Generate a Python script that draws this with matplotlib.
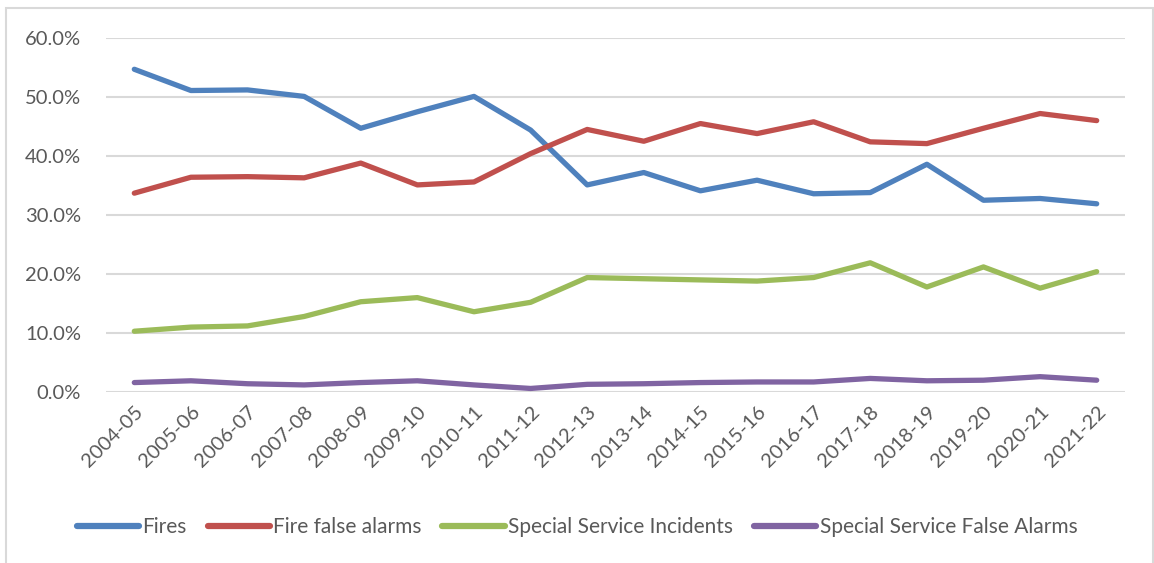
import matplotlib
matplotlib.use("Agg")
import matplotlib.pyplot as plt
from matplotlib.patches import Rectangle
from matplotlib.ticker import FuncFormatter

plt.rcParams['font.family'] = ['Lato', 'DejaVu Sans']

# Data (percent)
years = ['2004-05', '2005-06', '2006-07', '2007-08', '2008-09', '2009-10',
         '2010-11', '2011-12', '2012-13', '2013-14', '2014-15', '2015-16',
         '2016-17', '2017-18', '2018-19', '2019-20', '2020-21', '2021-22']
fires = [54.7, 51.1, 51.2, 50.1, 44.7, 47.5, 50.1, 44.4, 35.1, 37.2, 34.1, 35.9,
         33.6, 33.8, 38.6, 32.5, 32.8, 31.9]
fire_false_alarms = [33.7, 36.4, 36.5, 36.3, 38.8, 35.1, 35.6, 40.4, 44.5, 42.5,
                     45.5, 43.8, 45.8, 42.4, 42.1, 44.7, 47.2, 46.0]
special_service = [10.3, 11.0, 11.2, 12.8, 15.3, 16.0, 13.6, 15.2, 19.4, 19.2,
                   19.0, 18.8, 19.4, 21.9, 17.8, 21.2, 17.6, 20.4]
special_false_alarms = [1.6, 1.9, 1.4, 1.2, 1.6, 1.9, 1.2, 0.6, 1.3, 1.4,
                        1.6, 1.7, 1.7, 2.3, 1.9, 2.0, 2.6, 2.0]

series = [
    ('Fires', fires, '#4F81BD'),
    ('Fire false alarms', fire_false_alarms, '#C0504D'),
    ('Special Service Incidents', special_service, '#9BBB59'),
    ('Special Service False Alarms', special_false_alarms, '#8064A2'),
]

text_color = '#595959'
grid_color = '#D9D9D9'

fig = plt.figure(figsize=(11.54, 5.63), dpi=100)
W, H = 1154, 563
# plot area in pixels: left 106, right 1125, top 38 (60%), bottom 392 (0%)
ax = fig.add_axes([106 / W, 1 - 392 / H, (1125 - 106) / W, (392 - 38) / H])

x = list(range(len(years)))
for name, vals, col in series:
    ax.plot(x, vals, color=col, lw=3.8, label=name, solid_capstyle='round',
            solid_joinstyle='round')

ax.set_xlim(-0.5, len(years) - 0.5)
ax.set_ylim(0, 60)
ax.set_yticks(range(0, 61, 10))
ax.yaxis.set_major_formatter(FuncFormatter(lambda v, p: f'{v:.1f}%'))
ax.grid(axis='y', color=grid_color, lw=1.5)
ax.set_axisbelow(True)
for s in ax.spines.values():
    s.set_visible(False)
ax.tick_params(axis='both', length=0, colors=text_color, labelsize=14.5)
ax.tick_params(axis='y', pad=18)
ax.set_xticks(x)
ax.set_xticklabels(years, rotation=45, ha='right', rotation_mode='anchor')
ax.tick_params(axis='x', pad=8)

leg = fig.legend(loc='center', bbox_to_anchor=(0.5, 1 - 527 / H), ncol=4,
                 frameon=False, fontsize=15, handlelength=3.0,
                 handletextpad=0.15, columnspacing=1.0)
for t in leg.get_texts():
    t.set_color(text_color)
for h in leg.legend_handles:
    h.set_linewidth(4.5)
    h.set_solid_capstyle('round')

# outer chart frame
fig.patches.append(Rectangle((6 / W, -0.01), (1153 - 6) / W, 1 - 8 / H + 0.01,
                             transform=fig.transFigure, fill=False,
                             edgecolor='#D9D9D9', lw=1.5))

fig.savefig('out.png', dpi=100, facecolor='white')
